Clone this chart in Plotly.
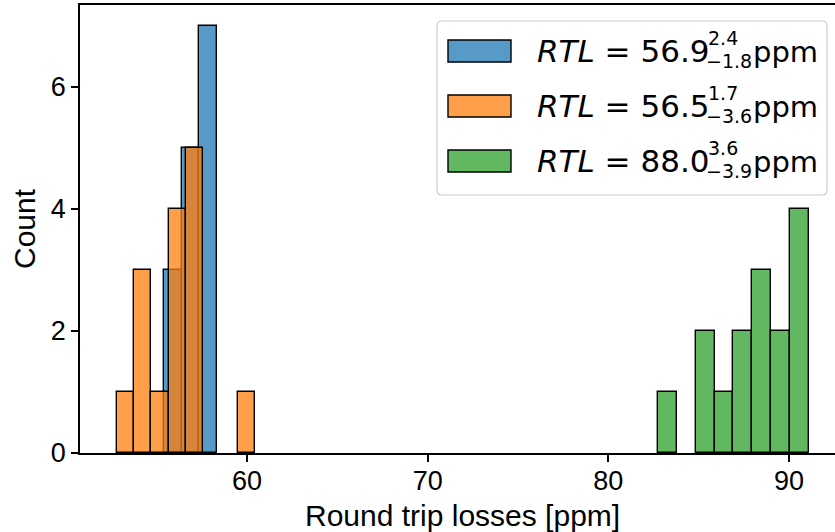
import numpy as np
import plotly.graph_objects as go

# ---- data ----
blue_edges = [55.42, 56.39, 57.36, 58.33]
blue_counts = [3, 5, 7]

orange_edges = [52.79, 53.75, 54.70, 55.66, 56.61, 57.57, 58.53, 59.48, 60.44]
orange_counts = [1, 3, 1, 4, 5, 0, 0, 1]

green_edges = [82.76, 83.80, 84.84, 85.88, 86.92, 87.96, 89.00, 90.04, 91.08]
green_counts = [1, 0, 2, 1, 2, 3, 2, 4]

rtl_values = ["56.9", "56.5", "88.0"]
rtl_plus = ["2.4", "1.7", "3.6"]
rtl_minus = ["1.8", "3.6", "3.9"]

x_ticks = [60, 70, 80, 90]
y_ticks = [0, 2, 4, 6]

colors = ["rgba(31,119,180,0.75)", "rgba(255,127,14,0.75)", "rgba(44,160,44,0.75)"]

W, H = 835, 532
L, R, T, B = 80, 0, 5, 79
PW, PH = W - L - R, H - T - B


def px(X):
    return (X - L) / PW


def py(Y):
    return (H - B - Y) / PH


fig = go.Figure()
for edges, counts, col in [(blue_edges, blue_counts, colors[0]),
                           (orange_edges, orange_counts, colors[1]),
                           (green_edges, green_counts, colors[2])]:
    e = np.array(edges)
    c = np.array(counts)
    centers = (e[:-1] + e[1:]) / 2
    widths = np.diff(e)
    mask = c > 0
    fig.add_trace(go.Bar(
        x=centers[mask], y=c[mask], width=widths[mask],
        marker=dict(color=col, line=dict(color="black", width=1.4)),
        showlegend=False,
    ))

# ---- custom legend (to mimic stacked super/subscripts) ----
shapes = []
x0, x1, y0, y1 = 437, 827, 21, 195
r = 5
rx, ry = r / PW, r / PH
X0, X1, Y0, Y1 = px(x0), px(x1), py(y1), py(y0)
path = (f"M {X0+rx},{Y0} L {X1-rx},{Y0} Q {X1},{Y0} {X1},{Y0+ry} "
        f"L {X1},{Y1-ry} Q {X1},{Y1} {X1-rx},{Y1} L {X0+rx},{Y1} "
        f"Q {X0},{Y1} {X0},{Y1-ry} L {X0},{Y0+ry} Q {X0},{Y0} {X0+rx},{Y0} Z")
shapes.append(dict(type="path", path=path, xref="paper", yref="paper",
                   fillcolor="rgba(255,255,255,0.85)",
                   line=dict(color="#cccccc", width=1.2), layer="above"))

annotations = []
row_centers = [51, 106, 161]
for i, yc in enumerate(row_centers):
    shapes.append(dict(type="rect", xref="paper", yref="paper",
                       x0=px(448), x1=px(511), y0=py(yc + 11), y1=py(yc - 11),
                       fillcolor=colors[i], line=dict(color="black", width=1.4),
                       layer="above"))
    fam = "DejaVu Sans"
    annotations.append(dict(text=f"<i>RTL</i> = {rtl_values[i]}", x=px(535), y=py(yc),
                            xref="paper", yref="paper", xanchor="left", yanchor="middle",
                            showarrow=False, font=dict(family=fam, size=31, color="black")))
    annotations.append(dict(text=rtl_plus[i], x=px(706), y=py(yc - 13),
                            xref="paper", yref="paper", xanchor="left", yanchor="middle",
                            showarrow=False, font=dict(family=fam, size=19, color="black")))
    annotations.append(dict(text="\u2212" + rtl_minus[i], x=px(704), y=py(yc + 10),
                            xref="paper", yref="paper", xanchor="left", yanchor="middle",
                            showarrow=False, font=dict(family=fam, size=19, color="black")))
    annotations.append(dict(text="ppm", x=px(751), y=py(yc + 1),
                            xref="paper", yref="paper", xanchor="left", yanchor="middle",
                            showarrow=False, font=dict(family=fam, size=29, color="black")))

tick_font = dict(family="Liberation Sans, Arial, sans-serif", size=27, color="black")
title_font = dict(family="Liberation Sans, Arial, sans-serif", size=30, color="black")

# x-axis title placed explicitly (centred on the full axes, as in the reference)
annotations.append(dict(text="Round trip losses [ppm]", x=px(462), y=py(515),
                        xref="paper", yref="paper", xanchor="center", yanchor="middle",
                        showarrow=False, font=title_font))

fig.update_layout(
    width=W, height=H,
    margin=dict(l=L, r=R, t=T, b=B),
    paper_bgcolor="white", plot_bgcolor="white",
    barmode="overlay", bargap=0,
    shapes=shapes, annotations=annotations,
    font=tick_font,
    xaxis=dict(range=[50.76, 50.76 + PW / 18.07], tickvals=x_ticks,
               showline=True, linecolor="black", linewidth=1.5, mirror=True,
               ticks="outside", ticklen=7, tickwidth=1.5, tickcolor="black",
               ticklabelstandoff=-4,
               showgrid=False, zeroline=False, tickfont=tick_font),
    yaxis=dict(range=[0, 7.34], tickvals=y_ticks,
               showline=True, linecolor="black", linewidth=1.5,
               ticks="outside", ticklen=7, tickwidth=1.5, tickcolor="black",
               showgrid=False, zeroline=False, tickfont=tick_font,
               title=dict(text="Count", font=title_font, standoff=6)),
)

fig.write_html("out.html")
